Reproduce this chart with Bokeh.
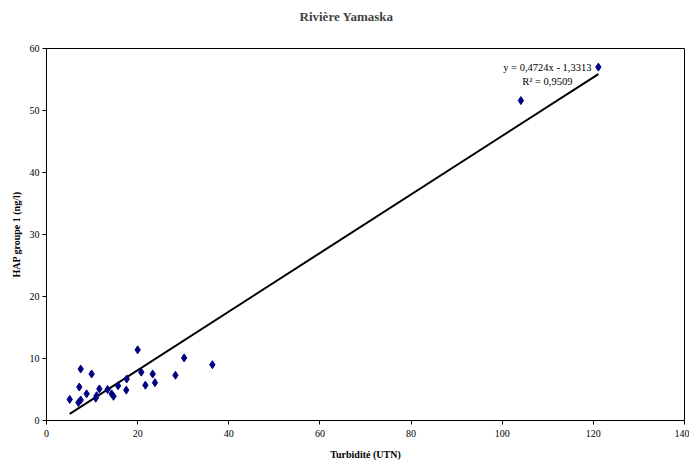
from bokeh.plotting import figure
from bokeh.models import Range1d, Label, FixedTicker, ColumnDataSource, Title
from bokeh.embed import file_html
from bokeh.resources import INLINE

# Data
turbidite = [5.1, 7.0, 7.5, 7.2, 7.5, 8.8, 9.9, 10.8, 11.0, 11.6, 13.4, 14.3, 14.7,
             15.7, 17.5, 17.6, 20.0, 20.8, 21.7, 23.3, 23.8, 28.3, 30.2, 36.4, 104.1, 121.1]
hap = [3.4, 2.9, 3.3, 5.4, 8.3, 4.3, 7.5, 3.6, 4.0, 5.1, 5.0, 4.3, 3.9,
       5.6, 4.9, 6.7, 11.4, 7.8, 5.7, 7.5, 6.1, 7.3, 10.1, 9.0, 51.6, 57.0]
slope = 0.4724
intercept = -1.3313
x_ticks = [0, 20, 40, 60, 80, 100, 120, 140]
y_ticks = [0, 10, 20, 30, 40, 50, 60]
title_text = "Rivière Yamaska"
eq_text = "y = 0,4724x - 1,3313"
r2_text = "R\u00b2 = 0,9509"

SERIF = "Liberation Serif"

p = figure(title=None, frame_width=638, frame_height=372, output_backend="svg",
           toolbar_location=None, x_range=Range1d(0, 140), y_range=Range1d(0, 60),
           min_border_left=46, min_border_right=5, min_border_top=48, min_border_bottom=44)

# invisible spacer panel next to the frame, then the real title above it
p.add_layout(Title(text="\u00a0", text_font=SERIF, text_font_size="13px", standoff=8), "above")
p.add_layout(Title(text=title_text, align="left", offset=253, text_font=SERIF,
                   text_font_size="13px", text_font_style="bold", standoff=0), "above")

p.grid.visible = False
p.outline_line_color = "black"
p.outline_line_width = 1
p.background_fill_color = "white"
p.border_fill_color = "white"

for ax in (p.xaxis[0], p.yaxis[0]):
    ax.axis_line_color = "black"
    ax.major_tick_line_color = "black"
    ax.minor_tick_line_color = None
    ax.major_tick_in = 0
    ax.major_tick_out = 4
    ax.major_label_text_font = SERIF
    ax.major_label_text_font_size = "10px"
    ax.major_label_text_color = "black"
    ax.axis_label_text_font = SERIF
    ax.axis_label_text_font_size = "10px"
    ax.axis_label_text_font_style = "bold"
    ax.axis_label_text_color = "black"

p.xaxis[0].ticker = FixedTicker(ticks=x_ticks)
p.yaxis[0].ticker = FixedTicker(ticks=y_ticks)
p.xaxis[0].axis_label = "Turbidité (UTN)"
p.yaxis[0].axis_label = "HAP groupe 1 (ng/l)"
p.xaxis[0].major_label_standoff = 5
p.yaxis[0].major_label_standoff = 3
p.xaxis[0].axis_label_standoff = 9
p.yaxis[0].axis_label_standoff = 5

# Trendline from min to max x
xmin, xmax = min(turbidite), max(turbidite)
p.line([xmin, xmax], [slope * xmin + intercept, slope * xmax + intercept],
       line_color="black", line_width=2)

src = ColumnDataSource(dict(x=turbidite, y=hap))
p.scatter("x", "y", source=src, marker="diamond", size=8,
          fill_color="#000080", line_color="#000080")

p.add_layout(Label(x=109.9, y=57.0, text=eq_text, text_align="center", text_baseline="middle",
                   text_font=SERIF, text_font_size="10.5px", text_color="black"))
p.add_layout(Label(x=109.9, y=54.7, text=r2_text, text_align="center", text_baseline="middle",
                   text_font=SERIF, text_font_size="10.5px", text_color="black"))

open("out.html", "w").write(file_html(p, INLINE))
